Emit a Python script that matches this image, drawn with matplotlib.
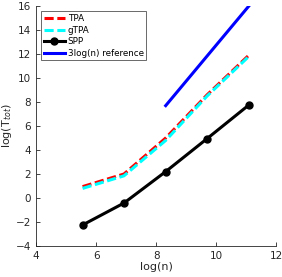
import matplotlib.pyplot as plt
import numpy as np

logn = [5.55, 6.93, 8.32, 9.70, 11.09]
tpa = [0.95, 2.0, 5.0, 8.6, 11.9]
gtpa = [0.8, 1.85, 4.8, 8.5, 11.8]
spp = [-2.25, -0.42, 2.2, 4.95, 7.75]
ref_x = [8.32, 11.09]
ref_y = [7.7, 16.0]

plt.rcParams['font.family'] = 'DejaVu Sans'
fig = plt.figure(figsize=(2.82, 2.77), dpi=100)
ax = fig.add_axes([0.128, 0.112, 0.851, 0.866])

ax.plot(logn, tpa, '--', color='red', lw=2.2, dashes=(3, 1.2), label='TPA')
ax.plot(logn, gtpa, '--', color='cyan', lw=2.2, dashes=(3, 1.2), label='gTPA')
ax.plot(logn, spp, '-o', color='black', lw=2.2, ms=5, label='SPP')
ax.plot(ref_x, ref_y, '-', color='blue', lw=2.2, label='3log(n) reference')

ax.set_xlim(4, 12)
ax.set_ylim(-4, 16)
ax.set_xticks(np.arange(4, 13, 2))
ax.set_yticks(np.arange(-4, 17, 2))
ax.tick_params(direction='in', labelsize=7.5, length=3, width=0.6, colors='#262626')
for s in ['top', 'right']:
    ax.spines[s].set_visible(False)
for s in ['left', 'bottom']:
    ax.spines[s].set_linewidth(0.6)
    ax.spines[s].set_color('#262626')

ax.set_xlabel('log(n)', fontsize=8, color='#262626', labelpad=1)
ax.set_ylabel(r'log(T$_{tot}$)', fontsize=8, color='#262626', labelpad=1)

leg = ax.legend(loc='upper left', fontsize=6.3, frameon=True, fancybox=False,
                edgecolor='#262626', handlelength=2.4, handletextpad=0.3,
                borderpad=0.3, labelspacing=0.3, borderaxespad=0.6)
leg.get_frame().set_linewidth(0.6)

fig.savefig('out.png', dpi=100)
